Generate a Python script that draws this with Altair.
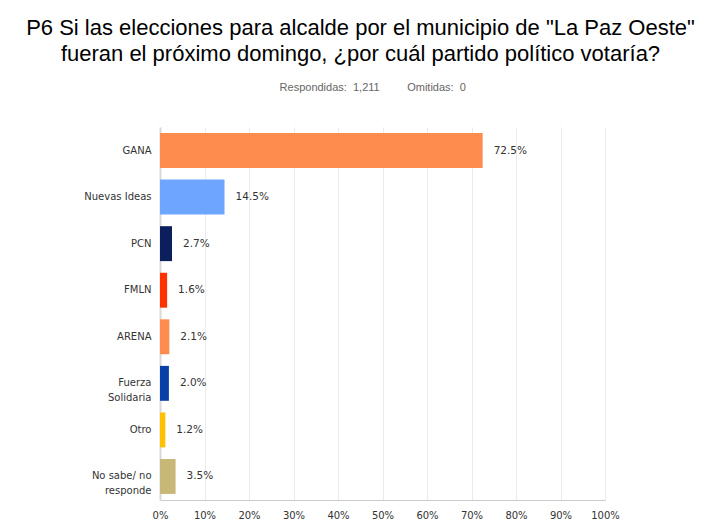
import altair as alt
import pandas as pd

partidos = ["GANA", "Nuevas Ideas", "PCN", "FMLN", "ARENA",
            "Fuerza\nSolidaria", "Otro", "No sabe/ no\nresponde"]
porcentajes = [72.5, 14.5, 2.7, 1.6, 2.1, 2.0, 1.2, 3.5]
colores = ["#FF8C4F", "#6EA6FF", "#0B1F5C", "#FF3300",
           "#FF8C4F", "#0A3FA8", "#FFC000", "#C8B878"]

df = pd.DataFrame({"partido": partidos, "pct": porcentajes, "color": colores})
df["etiqueta"] = df["pct"].map(lambda v: f"{v:.1f}%")

y_enc = alt.Y(
    "partido:N",
    sort=partidos,
    title=None,
    scale=alt.Scale(paddingInner=0.25, paddingOuter=0.13),
    axis=alt.Axis(
        labelExpr="split(datum.label, '\\n')",
        labelFont="DejaVu Sans",
        labelFontSize=10,
        labelLineHeight=15,
        labelColor="#333333",
        labelPadding=9,
        ticks=False,
        domainColor="#d9d9d9",
        domainWidth=2,
        minExtent=147,
        labelLimit=200,
    ),
)

x_enc = alt.X(
    "pct:Q",
    title=None,
    scale=alt.Scale(domain=[0, 100], nice=False),
    axis=alt.Axis(
        values=list(range(0, 101, 10)),
        labelExpr="datum.value + '%'",
        labelFont="DejaVu Sans",
        labelFontSize=10,
        labelColor="#333333",
        labelPadding=10,
        labelFlush=False,
        ticks=False,
        grid=True,
        gridColor="#ebebeb",
        domainColor="#cccccc",
    ),
)

bars = alt.Chart(df).mark_bar().encode(
    y=y_enc,
    x=x_enc,
    color=alt.Color("color:N", scale=None),
)

labels = alt.Chart(df).mark_text(
    align="left", dx=11, font="DejaVu Sans", fontSize=10.5, color="#333333"
).encode(
    y=alt.Y("partido:N", sort=partidos),
    x="pct:Q",
    text="etiqueta:N",
)

sp = "\u00a0"
chart = (
    alt.layer(bars, labels)
    .properties(
        width=445,
        height=373,
        padding={"left": 5, "top": 9, "right": 5, "bottom": 5},
        title=alt.TitleParams(
            text=['P6 Si las elecciones para alcalde por el municipio de "La Paz Oeste"',
                  "fueran el próximo domingo, ¿por cuál partido político votaría?"],
            subtitle="\u200b" + sp * 8 + "Respondidas:" + sp * 2 + "1,211" + sp * 9 + "Omitidas:" + sp * 2 + "0",
            font="Liberation Sans",
            fontSize=22,
            fontWeight="normal",
            color="#000000",
            lineHeight=26,
            subtitleFont="Liberation Sans",
            subtitleFontSize=11,
            subtitleColor="#666666",
            subtitlePadding=16,
            anchor="middle",
            dx=-22,
            offset=33,
        ),
    )
    .configure_view(stroke=None)
)

chart.save("out.html", embed_options={"renderer": "svg", "actions": False})
